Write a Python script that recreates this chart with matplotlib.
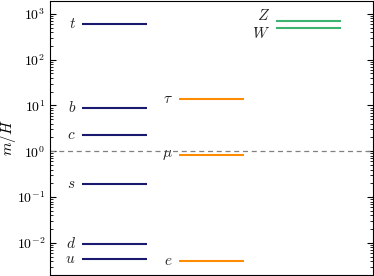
import matplotlib
matplotlib.use("Agg")
import matplotlib.pyplot as plt

plt.rcParams['mathtext.fontset'] = 'cm'
plt.rcParams['font.family'] = ['cmr10', 'DejaVu Serif']
plt.rcParams['axes.formatter.use_mathtext'] = True

quarks = ['t', 'b', 'c', 's', 'd', 'u']
quark_vals = [605, 8.9, 2.22, 0.19, 0.0095, 0.0044]
leptons = [r'\tau', r'\mu', 'e']
lepton_vals = [13.7, 0.83, 0.0041]
bosons = ['Z', 'W']
boson_vals = [700, 500]

groups = [
    (quarks, quark_vals, 0.2, '#191970'),
    (leptons, lepton_vals, 0.5, '#FF8C00'),
    (bosons, boson_vals, 0.8, '#3CB371'),
]

fig = plt.figure(figsize=(3.74, 2.76), dpi=100)
ax = fig.add_axes([50/374, 1/276, 323/374, 274/276])
ax.set_yscale('log')
ax.set_xlim(0, 1)
ax.set_ylim(10**-2.70, 10**3.28)

for names, vals, cx, col in groups:
    for n, v in zip(names, vals):
        ax.plot([cx - 0.1, cx + 0.1], [v, v], color=col, lw=1.5, solid_capstyle='butt')
        if n == 'Z':
            ax.text(cx - 0.12, v * 1.3, f'${n}$', ha='right', va='center', fontsize=11, color='#222222')
        elif n == 'W':
            ax.text(cx - 0.12, v * 0.75, f'${n}$', ha='right', va='center', fontsize=11, color='#222222')
        else:
            ax.text(cx - 0.12, v, f'${n}$', ha='right', va='center', fontsize=11, color='#222222')

ax.axhline(1.0, color='gray', ls='--', lw=0.9, dashes=(4, 3))
ax.set_xticks([])
ax.tick_params(axis='y', which='both', direction='in', left=True, right=True, labelsize=10)
ax.tick_params(axis='y', which='major', length=4)
ax.tick_params(axis='y', which='minor', length=2)
ax.set_ylabel('$m/H$', fontsize=11)
ax.yaxis.set_label_coords(-32/323, 0.5)

fig.savefig('out.png', dpi=100)
